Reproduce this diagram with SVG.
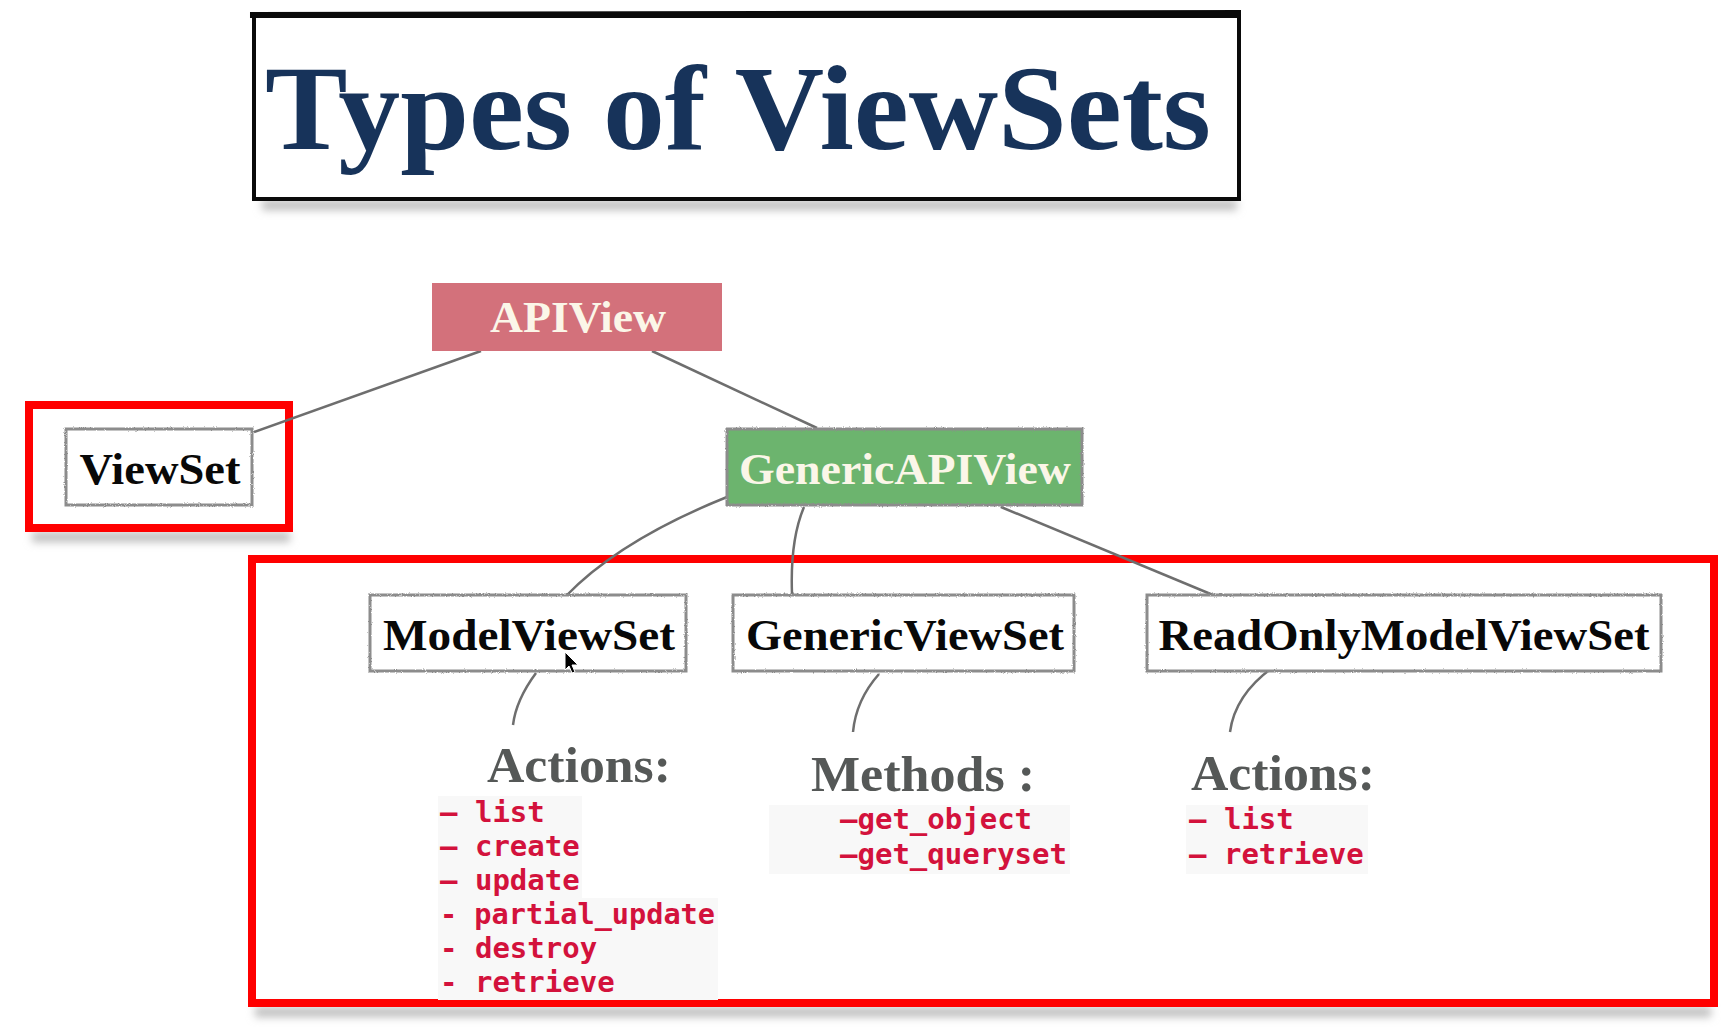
<svg xmlns="http://www.w3.org/2000/svg" width="1734" height="1032" viewBox="0 0 1734 1032">
  <defs>
    <filter id="rough" x="-5%" y="-20%" width="110%" height="140%">
      <feTurbulence type="fractalNoise" baseFrequency="0.9" numOctaves="2" seed="3" result="n"/>
      <feDisplacementMap in="SourceGraphic" in2="n" scale="2.5" xChannelSelector="R" yChannelSelector="G"/>
    </filter>
    <filter id="soft" x="-10%" y="-200%" width="120%" height="500%">
      <feGaussianBlur stdDeviation="4"/>
    </filter>
    <style>
      .title { font-family: "Liberation Serif", "Times New Roman", serif; font-weight: bold; font-size: 120px; fill: #17335a; }
      .node-text { font-family: "Liberation Serif", "Times New Roman", serif; font-weight: bold; font-size: 45px; text-anchor: middle; }
      .dark { fill: #080808; }
      .light { fill: #fbf6e8; }
      .frame { fill: none; stroke: #8c8c8c; stroke-width: 3; }
      .label { font-family: "Liberation Serif", "Times New Roman", serif; font-weight: bold; font-size: 50px; fill: #555857; }
      .code { font-family: "DejaVu Sans Mono", "Liberation Mono", monospace; font-weight: bold; font-size: 29px; fill: #d3123c; }
      .band { fill: #f8f8f8; }
      .hilite { fill: none; stroke: #ff0000; stroke-width: 8; }
      .shadow { fill: #bdbdbd; }
      .edge { fill: none; stroke: #6e6e6e; stroke-width: 2.5; }
    </style>
  </defs>

  <rect width="1734" height="1032" fill="#ffffff"/>

  <!-- heading panel -->
  <g id="title">
    <rect class="shadow" x="262" y="200" width="975" height="10" filter="url(#soft)"/>
    <rect x="254" y="16" width="985" height="183" fill="#ffffff" stroke="#0a0a0a" stroke-width="4"/>
    <path d="M250,15 L1241,13" stroke="#0a0a0a" stroke-width="6"/>
    <text class="title" x="265" y="149" textLength="946" lengthAdjust="spacingAndGlyphs">Types of ViewSets</text>
  </g>

  <!-- highlight frames -->
  <g id="highlights">
    <rect class="shadow" x="32" y="532" width="258" height="10" filter="url(#soft)"/>
    <rect class="shadow" x="255" y="1007" width="1456" height="10" filter="url(#soft)"/>
    <rect class="hilite" x="29" y="405" width="260" height="123"/>
    <rect class="hilite" x="252" y="559" width="1462" height="444"/>
  </g>

  <!-- connectors -->
  <g id="connectors">
    <path class="edge" d="M481,351 L254,432"/>
    <path class="edge" d="M652,351 L817,428"/>
    <path class="edge" d="M727,497 Q620,540 566,596"/>
    <path class="edge" d="M804,507 Q790,540 792,594"/>
    <path class="edge" d="M1001,507 L1213,595"/>
    <path class="edge" d="M536,673 Q516,700 513,725"/>
    <path class="edge" d="M879,674 Q856,700 853,732"/>
    <path class="edge" d="M1272,668 Q1235,695 1230,732"/>
  </g>

  <g id="apiview">
    <rect x="432" y="283" width="290" height="68" fill="#d3717b"/>
    <text class="node-text light" x="578" y="332" textLength="176" lengthAdjust="spacingAndGlyphs">APIView</text>
  </g>

  <g id="viewset">
    <rect x="66" y="429" width="186" height="76" fill="#ffffff"/>
    <rect class="frame" x="66" y="429" width="186" height="76" filter="url(#rough)"/>
    <text class="node-text dark" x="160" y="484" textLength="161" lengthAdjust="spacingAndGlyphs">ViewSet</text>
  </g>

  <g id="genericapiview">
    <rect x="727" y="429" width="355" height="76" fill="#6cb46e"/>
    <rect class="frame" x="727" y="429" width="355" height="76" filter="url(#rough)"/>
    <text class="node-text light" x="905" y="484" textLength="332" lengthAdjust="spacingAndGlyphs">GenericAPIView</text>
  </g>

  <g id="modelviewset">
    <rect x="370" y="595" width="316" height="76" fill="#ffffff"/>
    <rect class="frame" x="370" y="595" width="316" height="76" filter="url(#rough)"/>
    <text class="node-text dark" x="529" y="650" textLength="292" lengthAdjust="spacingAndGlyphs">ModelViewSet</text>
  </g>

  <g id="genericviewset">
    <rect x="733" y="595" width="341" height="76" fill="#ffffff"/>
    <rect class="frame" x="733" y="595" width="341" height="76" filter="url(#rough)"/>
    <text class="node-text dark" x="905" y="650" textLength="318" lengthAdjust="spacingAndGlyphs">GenericViewSet</text>
  </g>

  <g id="readonlymodelviewset">
    <rect x="1147" y="595" width="514" height="76" fill="#ffffff"/>
    <rect class="frame" x="1147" y="595" width="514" height="76" filter="url(#rough)"/>
    <text class="node-text dark" x="1404" y="650" textLength="491" lengthAdjust="spacingAndGlyphs">ReadOnlyModelViewSet</text>
  </g>

  <!-- ModelViewSet actions -->
  <g id="modelviewset-actions">
    <rect class="band" x="438" y="796" width="144" height="102"/>
    <rect class="band" x="438" y="898" width="280" height="102"/>
    <text class="label" x="487" y="782" textLength="184" lengthAdjust="spacingAndGlyphs">Actions:</text>
    <text class="code" x="440" y="822">– list</text>
    <text class="code" x="440" y="856">– create</text>
    <text class="code" x="440" y="890">– update</text>
    <text class="code" x="440" y="924" textLength="275" lengthAdjust="spacingAndGlyphs">- partial_update</text>
    <text class="code" x="440" y="958">- destroy</text>
    <text class="code" x="440" y="992">- retrieve</text>
  </g>

  <!-- GenericViewSet methods -->
  <g id="genericviewset-methods">
    <rect class="band" x="769" y="805" width="301" height="69"/>
    <text class="label" x="811" y="791" textLength="224" lengthAdjust="spacingAndGlyphs">Methods :</text>
    <text class="code" x="840" y="829">–get_object</text>
    <text class="code" x="840" y="864">–get_queryset</text>
  </g>

  <!-- ReadOnlyModelViewSet actions -->
  <g id="readonly-actions">
    <rect class="band" x="1186" y="805" width="182" height="69"/>
    <text class="label" x="1191" y="790" textLength="184" lengthAdjust="spacingAndGlyphs">Actions:</text>
    <text class="code" x="1189" y="829">– list</text>
    <text class="code" x="1189" y="864">– retrieve</text>
  </g>

  <!-- pointer -->
  <path d="M565,652 L565,670 L569,666 L572,673 L575,672 L572,665 L578,665 Z" fill="#000000" stroke="#ffffff" stroke-width="1"/>
</svg>
